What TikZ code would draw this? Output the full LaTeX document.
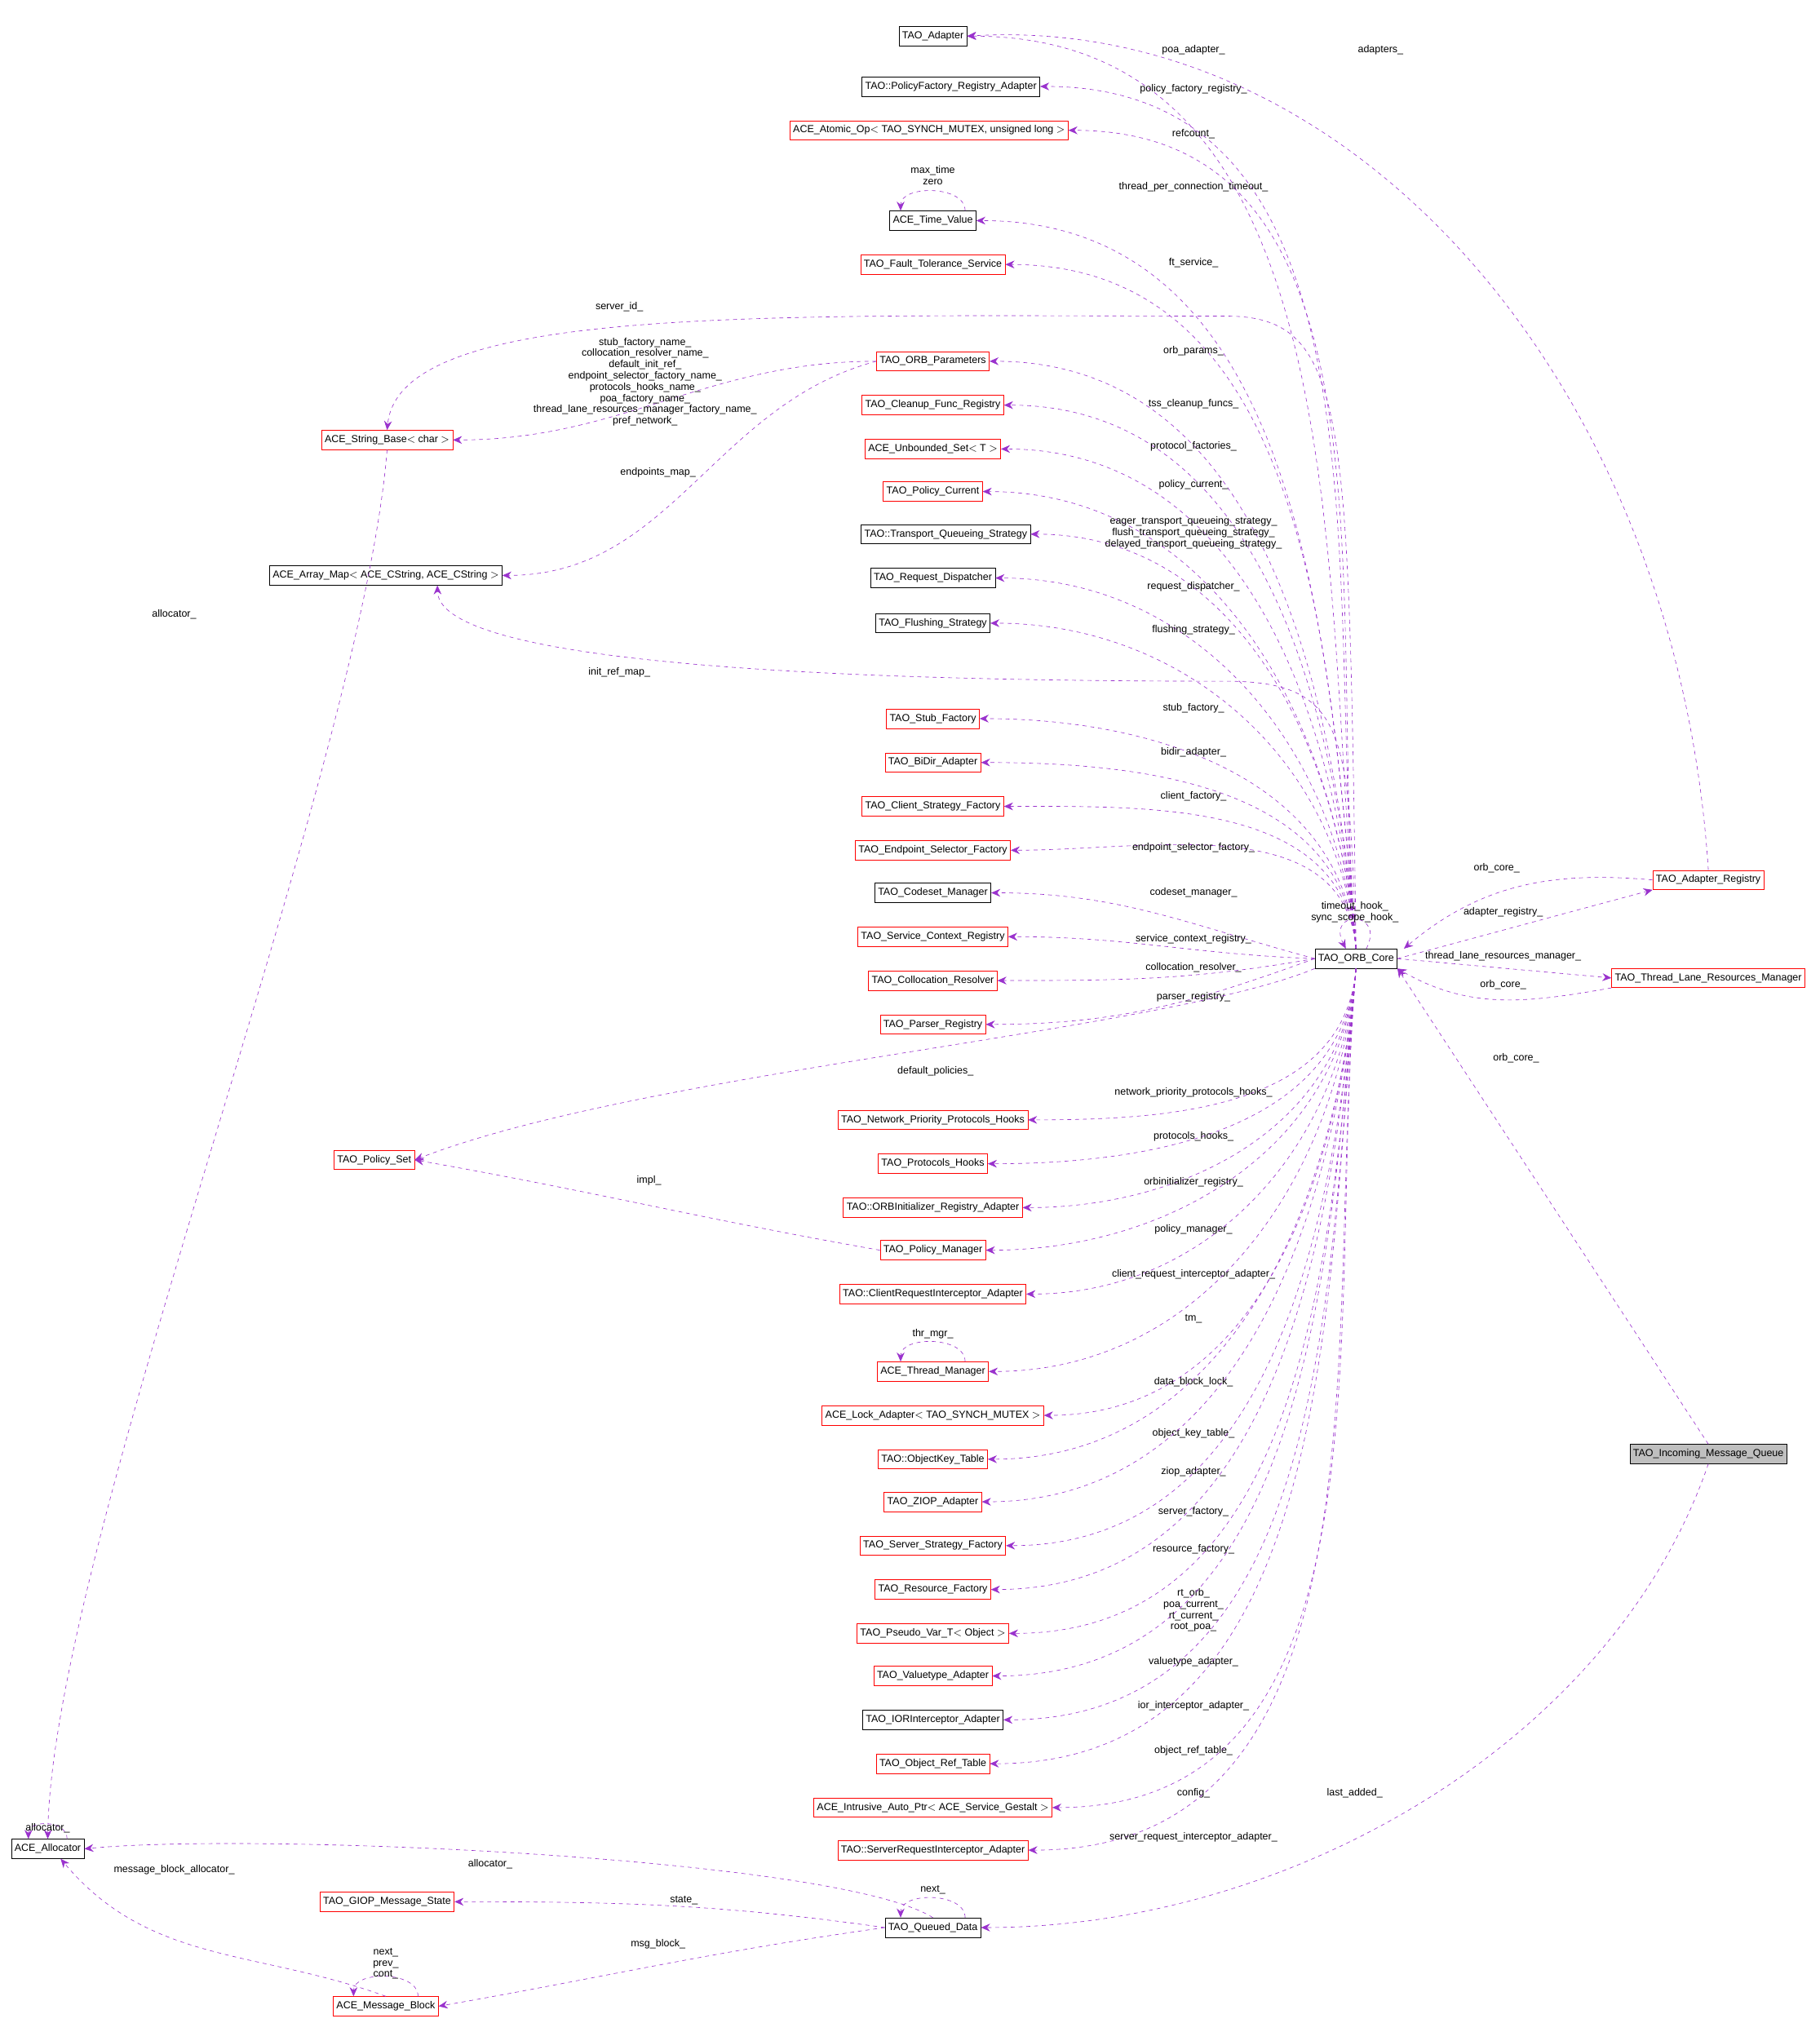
\documentclass[tikz,border=0pt]{standalone}
\usepackage{fontspec}
\setmainfont{Liberation Sans}
\usetikzlibrary{positioning,arrows.meta}
\definecolor{edgec}{HTML}{9A32CD}

\begin{document}
\begin{tikzpicture}[x=1pt,y=1pt,
    every node/.style={font=\fontsize{7.9}{8.7}\selectfont},
    cls/.style={draw=black, fill=white, inner sep=2.5pt, minimum height=15pt},
    rcls/.style={cls, draw=red},
    mem/.style={edgec, dashed, -{Stealth[length=7pt,width=6pt]}},
    lbl/.style={align=center, inner sep=0pt}]
    \useasboundingbox (0,0) rectangle (1410,-1568);

    % member classes, left column
    \node[cls]  (adapter)   at (723,-28)   {TAO\_Adapter};
    \node[cls]  (pfra)      at (737,-67)   {TAO::PolicyFactory\_Registry\_Adapter};
    \node[rcls] (atomic)    at (720,-101)  {ACE\_Atomic\_Op$<$ TAO\_SYNCH\_MUTEX, unsigned long $>$};
    \node[cls]  (timeval)   at (723,-171)  {ACE\_Time\_Value};
    \node[rcls] (ftserv)    at (723,-205)  {TAO\_Fault\_Tolerance\_Service};
    \node[rcls] (orbparams) at (723,-280)  {TAO\_ORB\_Parameters};
    \node[rcls] (cleanup)   at (723,-314)  {TAO\_Cleanup\_Func\_Registry};
    \node[rcls] (unbset)    at (723,-348)  {ACE\_Unbounded\_Set$<$ T $>$};
    \node[rcls] (polcur)    at (723,-381)  {TAO\_Policy\_Current};
    \node[cls]  (tqs)       at (733,-414)  {TAO::Transport\_Queueing\_Strategy};
    \node[cls]  (reqdisp)   at (723,-448)  {TAO\_Request\_Dispatcher};
    \node[cls]  (flush)     at (723,-483)  {TAO\_Flushing\_Strategy};
    \node[rcls] (stubf)     at (723,-557)  {TAO\_Stub\_Factory};
    \node[rcls] (bidir)     at (723,-591)  {TAO\_BiDir\_Adapter};
    \node[rcls] (clientf)   at (723,-625)  {TAO\_Client\_Strategy\_Factory};
    \node[rcls] (epsel)     at (723,-659)  {TAO\_Endpoint\_Selector\_Factory};
    \node[cls]  (codeset)   at (723,-692)  {TAO\_Codeset\_Manager};
    \node[rcls] (scr)       at (723,-726)  {TAO\_Service\_Context\_Registry};
    \node[rcls] (colres)    at (723,-760)  {TAO\_Collocation\_Resolver};
    \node[rcls] (parser)    at (723,-794)  {TAO\_Parser\_Registry};
    \node[rcls] (nphooks)   at (723,-868)  {TAO\_Network\_Priority\_Protocols\_Hooks};
    \node[rcls] (phooks)    at (723,-902)  {TAO\_Protocols\_Hooks};
    \node[rcls] (orbinit)   at (723,-936)  {TAO::ORBInitializer\_Registry\_Adapter};
    \node[rcls] (polmgr)    at (723,-969)  {TAO\_Policy\_Manager};
    \node[rcls] (cria)      at (723,-1003) {TAO::ClientRequestInterceptor\_Adapter};
    \node[rcls] (thrmgr)    at (723,-1063) {ACE\_Thread\_Manager};
    \node[rcls] (lockad)    at (723,-1097) {ACE\_Lock\_Adapter$<$ TAO\_SYNCH\_MUTEX $>$};
    \node[rcls] (okt)       at (723,-1131) {TAO::ObjectKey\_Table};
    \node[rcls] (ziop)      at (723,-1164) {TAO\_ZIOP\_Adapter};
    \node[rcls] (serverf)   at (723,-1198) {TAO\_Server\_Strategy\_Factory};
    \node[rcls] (resf)      at (723,-1232) {TAO\_Resource\_Factory};
    \node[rcls] (pseudo)    at (723,-1266) {TAO\_Pseudo\_Var\_T$<$ Object $>$};
    \node[rcls] (valt)      at (723,-1299) {TAO\_Valuetype\_Adapter};
    \node[cls]  (iori)      at (723,-1333) {TAO\_IORInterceptor\_Adapter};
    \node[rcls] (ort)       at (723,-1367) {TAO\_Object\_Ref\_Table};
    \node[rcls] (iap)       at (723,-1401) {ACE\_Intrusive\_Auto\_Ptr$<$ ACE\_Service\_Gestalt $>$};
    \node[rcls] (sria)      at (723,-1434) {TAO::ServerRequestInterceptor\_Adapter};
    \node[cls]  (queued)    at (723,-1494) {TAO\_Queued\_Data};

    % far left
    \node[rcls] (strbase)   at (300,-341)  {ACE\_String\_Base$<$ char $>$};
    \node[cls]  (arrmap)    at (299,-446)  {ACE\_Array\_Map$<$ ACE\_CString, ACE\_CString $>$};
    \node[rcls] (polset)    at (290,-899)  {TAO\_Policy\_Set};
    \node[rcls] (giop)      at (300,-1474) {TAO\_GIOP\_Message\_State};
    \node[rcls] (msgblk)    at (299,-1555) {ACE\_Message\_Block};
    \node[cls]  (alloc)     at (37,-1433)  {ACE\_Allocator};

    % right side
    \node[cls]  (core)      at (1051,-743) {TAO\_ORB\_Core};
    \node[rcls] (adreg)     at (1324,-682) {TAO\_Adapter\_Registry};
    \node[rcls] (tlrm)      at (1324,-758) {TAO\_Thread\_Lane\_Resources\_Manager};
    \node[cls, fill=black!25] (incoming) at (1324,-1127) {TAO\_Incoming\_Message\_Queue};

    % members above the core
    \foreach \t/\lab/\ly in {adapter/poa\_adapter\_/39, pfra/policy\_factory\_registry\_/69,
        atomic/refcount\_/104, timeval/thread\_per\_connection\_timeout\_/145,
        ftserv/ft\_service\_/204, orbparams/orb\_params\_/272, cleanup/tss\_cleanup\_funcs\_/313,
        unbset/protocol\_factories\_/346, polcur/policy\_current\_/376,
        tqs/{eager\_transport\_queueing\_strategy\_\\flush\_transport\_queueing\_strategy\_\\delayed\_transport\_queueing\_strategy\_}/413,
        reqdisp/request\_dispatcher\_/455, flush/flushing\_strategy\_/488,
        stubf/stub\_factory\_/549, bidir/bidir\_adapter\_/583, clientf/client\_factory\_/617,
        epsel/endpoint\_selector\_factory\_/657} {
        \draw[mem] (core.north) to[out=95,in=0] (\t.east);
        \node[lbl] (l-\t) at (925,-\ly) {\lab};
    }

    % members beside the core
    \foreach \t/\lab/\ly/\o in {codeset/codeset\_manager\_/692/165,
        scr/service\_context\_registry\_/728/178, colres/collocation\_resolver\_/750/190,
        parser/parser\_registry\_/773/200} {
        \draw[mem] (core.west) to[out=\o,in=0] (\t.east);
        \node[lbl] (l-\t) at (925,-\ly) {\lab};
    }

    % members below the core
    \foreach \t/\lab/\ly in {nphooks/network\_priority\_protocols\_hooks\_/847,
        phooks/protocols\_hooks\_/881, orbinit/orbinitializer\_registry\_/916,
        polmgr/policy\_manager\_/953, cria/client\_request\_interceptor\_adapter\_/988,
        thrmgr/tm\_/1022, lockad/data\_block\_lock\_/1071, okt/object\_key\_table\_/1111,
        ziop/ziop\_adapter\_/1141, serverf/server\_factory\_/1172, resf/resource\_factory\_/1201,
        pseudo/{rt\_orb\_\\poa\_current\_\\rt\_current\_\\root\_poa\_}/1248,
        valt/valuetype\_adapter\_/1288, iori/ior\_interceptor\_adapter\_/1322,
        ort/object\_ref\_table\_/1357, iap/config\_/1390,
        sria/server\_request\_interceptor\_adapter\_/1424} {
        \draw[mem] (core.south) to[out=265,in=0] (\t.east);
        \node[lbl] (l-\t) at (925,-\ly) {\lab};
    }

    % long members of the core
    \draw[mem] (core.north) .. controls (1045,-320) and (1045,-245) .. (950,-245)
        .. controls (600,-245) and (310,-235) .. (strbase.north);
    \node[lbl] (l-sid) at (480,-238) {server\_id\_};
    \draw[mem] (core.north) .. controls (1045,-570) and (1045,-528) .. (950,-528)
        .. controls (600,-528) and (340,-510) .. ([xshift=40pt]arrmap.south);
    \node[lbl] (l-irm) at (480,-521) {init\_ref\_map\_};
    \draw[mem] (core.south west) .. controls (900,-800) and (500,-830) .. (polset.east);
    \node[lbl] (l-dp) at (725,-830) {default\_policies\_};
    \draw[mem] ([xshift=8pt]core.north) .. controls +(15,30) and +(-15,30) .. ([xshift=-8pt]core.north);
    \node[lbl] (l-hook) at (1050,-707) {timeout\_hook\_\\sync\_scope\_hook\_};

    % registry and lanes
    \draw[mem] (adreg.north) .. controls (1300,-300) and (1050,-10) .. (adapter.east);
    \node[lbl] (l-ads) at (1070,-39) {adapters\_};
    \draw[mem] (adreg.west) to[out=175,in=40] ([xshift=5pt]core.north east);
    \node[lbl] (l-oc1) at (1160,-673) {orb\_core\_};
    \draw[mem] (core.east) to[out=15,in=195] (adreg.south west);
    \node[lbl] (l-ar) at (1165,-707) {adapter\_registry\_};
    \draw[mem] (core.east) -- (tlrm.west);
    \node[lbl] (l-tl) at (1165,-741) {thread\_lane\_resources\_manager\_};
    \draw[mem] (tlrm.south west) to[out=190,in=-30] (core.south east);
    \node[lbl] (l-oc2) at (1165,-763) {orb\_core\_};
    \draw[mem] (incoming.north) -- (core.south east);
    \node[lbl] (l-oc3) at (1175,-820) {orb\_core\_};
    \draw[mem] (incoming.south) .. controls (1250,-1350) and (1000,-1494) .. (queued.east);
    \node[lbl] (l-la) at (1050,-1390) {last\_added\_};

    % parameters and helpers
    \draw[mem] (orbparams.west) to[out=180,in=0] (strbase.east);
    \node[lbl] (l-names) at (500,-296) {stub\_factory\_name\_\\collocation\_resolver\_name\_\\default\_init\_ref\_\\endpoint\_selector\_factory\_name\_\\protocols\_hooks\_name\_\\poa\_factory\_name\_\\thread\_lane\_resources\_manager\_factory\_name\_\\pref\_network\_};
    \draw[mem] (orbparams.west) to[out=195,in=0] (arrmap.east);
    \node[lbl] (l-em) at (510,-366) {endpoints\_map\_};
    \draw[mem] (polmgr.west) to[out=170,in=-10] (polset.east);
    \node[lbl] (l-impl) at (503,-915) {impl\_};
    \draw[mem] (strbase.south) .. controls (280,-600) and (40,-1200) .. (alloc.north);
    \node[lbl] (l-sa) at (135,-476) {allocator\_};

    % queued data and blocks
    \draw[mem] (queued.north) .. controls (650,-1440) and (200,-1420) .. (alloc.east);
    \node[lbl] (l-qa) at (380,-1445) {allocator\_};
    \draw[mem] (queued.west) to[out=172,in=0] (giop.east);
    \node[lbl] (l-st) at (530,-1473) {state\_};
    \draw[mem] (queued.west) to[out=188,in=10] (msgblk.east);
    \node[lbl] (l-mb) at (510,-1507) {msg\_block\_};
    \draw[mem] (msgblk.north) to[out=160,in=-50] ([xshift=10pt]alloc.south);
    \node[lbl] (l-mba) at (135,-1449) {message\_block\_allocator\_};

    % self loops
    \draw[mem] ([xshift=25pt]timeval.north) .. controls +(0,20) and +(0,20) .. ([xshift=-25pt]timeval.north);
    \node[lbl] (l-tv) at (723,-136) {max\_time\\zero};
    \draw[mem] ([xshift=25pt]thrmgr.north) .. controls +(0,20) and +(0,20) .. ([xshift=-25pt]thrmgr.north);
    \node[lbl] (l-tm) at (723,-1034) {thr\_mgr\_};
    \draw[mem] ([xshift=25pt]queued.north) .. controls +(0,20) and +(0,20) .. ([xshift=-25pt]queued.north);
    \node[lbl] (l-nx) at (723,-1465) {next\_};
    \draw[mem] ([xshift=25pt]msgblk.north) .. controls +(0,20) and +(0,20) .. ([xshift=-25pt]msgblk.north);
    \node[lbl] (l-mbs) at (299,-1522) {next\_\\prev\_\\cont\_};
    \draw[mem] ([xshift=15pt]alloc.north) .. controls +(0,15) and +(0,15) .. ([xshift=-15pt]alloc.north);
    \node[lbl] (l-al) at (37,-1417) {allocator\_};
\end{tikzpicture}
\end{document}
